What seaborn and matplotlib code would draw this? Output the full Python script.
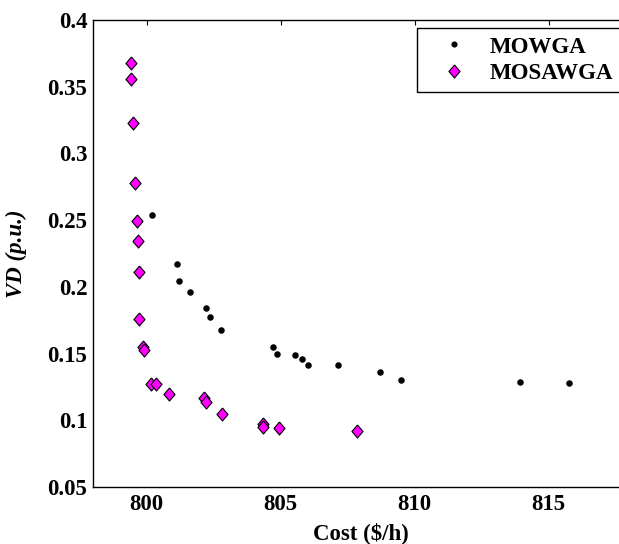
import numpy as np
import pandas as pd
import matplotlib
matplotlib.use("Agg")
import matplotlib.pyplot as plt
import seaborn as sns
from matplotlib.lines import Line2D

# ---- data ----
mowga_cost = [800.22, 801.12, 801.22, 801.63, 802.21, 802.36, 802.78, 804.70, 804.87,
              805.54, 805.79, 806.01, 807.15, 808.72, 809.51, 813.92, 815.75]
mowga_vd = [0.2536, 0.2169, 0.2043, 0.1958, 0.1845, 0.1771, 0.1678, 0.1551, 0.1498,
            0.1489, 0.1459, 0.1416, 0.1416, 0.1364, 0.1301, 0.1289, 0.1281]

mosawga_cost = [799.41, 799.41, 799.48, 799.57, 799.64, 799.68, 799.72, 799.72, 799.85,
                799.89, 800.15, 800.36, 800.82, 802.16, 802.22, 802.81, 804.35, 804.35,
                804.94, 807.86]
mosawga_vd = [0.368, 0.356, 0.323, 0.278, 0.2495, 0.234, 0.211, 0.1756, 0.1546,
              0.153, 0.127, 0.127, 0.120, 0.1164, 0.1136, 0.1044, 0.0972, 0.095,
              0.094, 0.092]

series_names = ["MOWGA", "MOSAWGA"]
x_ticks = [800, 805, 810, 815]
y_ticks = [0.05, 0.1, 0.15, 0.2, 0.25, 0.3, 0.35, 0.4]
y_tick_labels = ["0.05", "0.1", "0.15", "0.2", "0.25", "0.3", "0.35", "0.4"]

df_a = pd.DataFrame({"cost": mowga_cost, "vd": mowga_vd})
df_b = pd.DataFrame({"cost": mosawga_cost, "vd": mosawga_vd})

sns.set_style("white")
plt.rcParams["font.family"] = ["Liberation Serif", "DejaVu Serif"]
plt.rcParams["font.weight"] = "bold"
plt.rcParams["text.color"] = "black"
plt.rcParams["axes.labelcolor"] = "black"
plt.rcParams["xtick.color"] = "black"
plt.rcParams["ytick.color"] = "black"

FS = 16.5

fig = plt.figure(figsize=(6.19, 5.44), dpi=100)
W, H = 619, 544
left_px, right_px, top_px, bottom_px = 93, 629, 20, 487
ax = fig.add_axes([left_px / W, (H - bottom_px) / H,
                   (right_px - left_px) / W, (bottom_px - top_px) / H])

diamond = [(0, 1), (0.85, 0), (0, -1), (-0.85, 0), (0, 1)]

sns.scatterplot(data=df_a, x="cost", y="vd", ax=ax, marker="o", s=22,
                color="black", edgecolor="black", linewidth=0, zorder=3)
sns.scatterplot(data=df_b, x="cost", y="vd", ax=ax, marker=diamond, s=88,
                color="#FF00FF", edgecolor="black", linewidth=0.8, zorder=4)

ax.set_xlim(798, 818)
ax.set_ylim(0.05, 0.4)
ax.set_xticks(x_ticks)
ax.set_xticklabels([str(t) for t in x_ticks])
ax.set_yticks(y_ticks)
ax.set_yticklabels(y_tick_labels)

for sp in ax.spines.values():
    sp.set_visible(True)
    sp.set_color("black")
    sp.set_linewidth(1.0)

ax.tick_params(axis="both", direction="in", length=3.5, width=0.8,
               top=True, right=True, labelsize=FS, colors="black",
               labelcolor="black")
ax.tick_params(axis="x", pad=5)
ax.tick_params(axis="y", pad=4)
for lab in ax.get_xticklabels() + ax.get_yticklabels():
    lab.set_fontweight("bold")
    lab.set_color("black")

ax.set_xlabel("Cost (\\$/h)", fontsize=FS, fontweight="bold", color="black")
ax.set_ylabel("VD (p.u.)", fontsize=FS, fontweight="bold", style="italic", color="black")
ax.xaxis.set_label_coords(0.5, (bottom_px - 533) / (bottom_px - top_px))
ax.xaxis.label.set_va("center")
ax.yaxis.set_label_coords((16 - left_px) / (right_px - left_px), 0.5)
ax.yaxis.label.set_va("center")

handles = [
    Line2D([], [], linestyle="none", marker="o", markersize=3.4,
           markerfacecolor="black", markeredgecolor="black"),
    Line2D([], [], linestyle="none", marker=diamond, markersize=9.4,
           markerfacecolor="#FF00FF", markeredgecolor="black", markeredgewidth=0.8),
]
leg = ax.legend(handles, series_names, loc="upper left",
                bbox_to_anchor=((417 - left_px) / (right_px - left_px),
                                (bottom_px - 28) / (bottom_px - top_px)),
                frameon=True, fancybox=False, edgecolor="black",
                prop={"family": "Liberation Serif", "weight": "bold", "size": FS},
                borderpad=0.37, handletextpad=0.28, labelspacing=0.22,
                handlelength=2.5, borderaxespad=0)
leg.get_frame().set_linewidth(1.0)
leg.get_frame().set_alpha(1)
for t in leg.get_texts():
    t.set_color("black")

fig.savefig("out.png", dpi=100)
